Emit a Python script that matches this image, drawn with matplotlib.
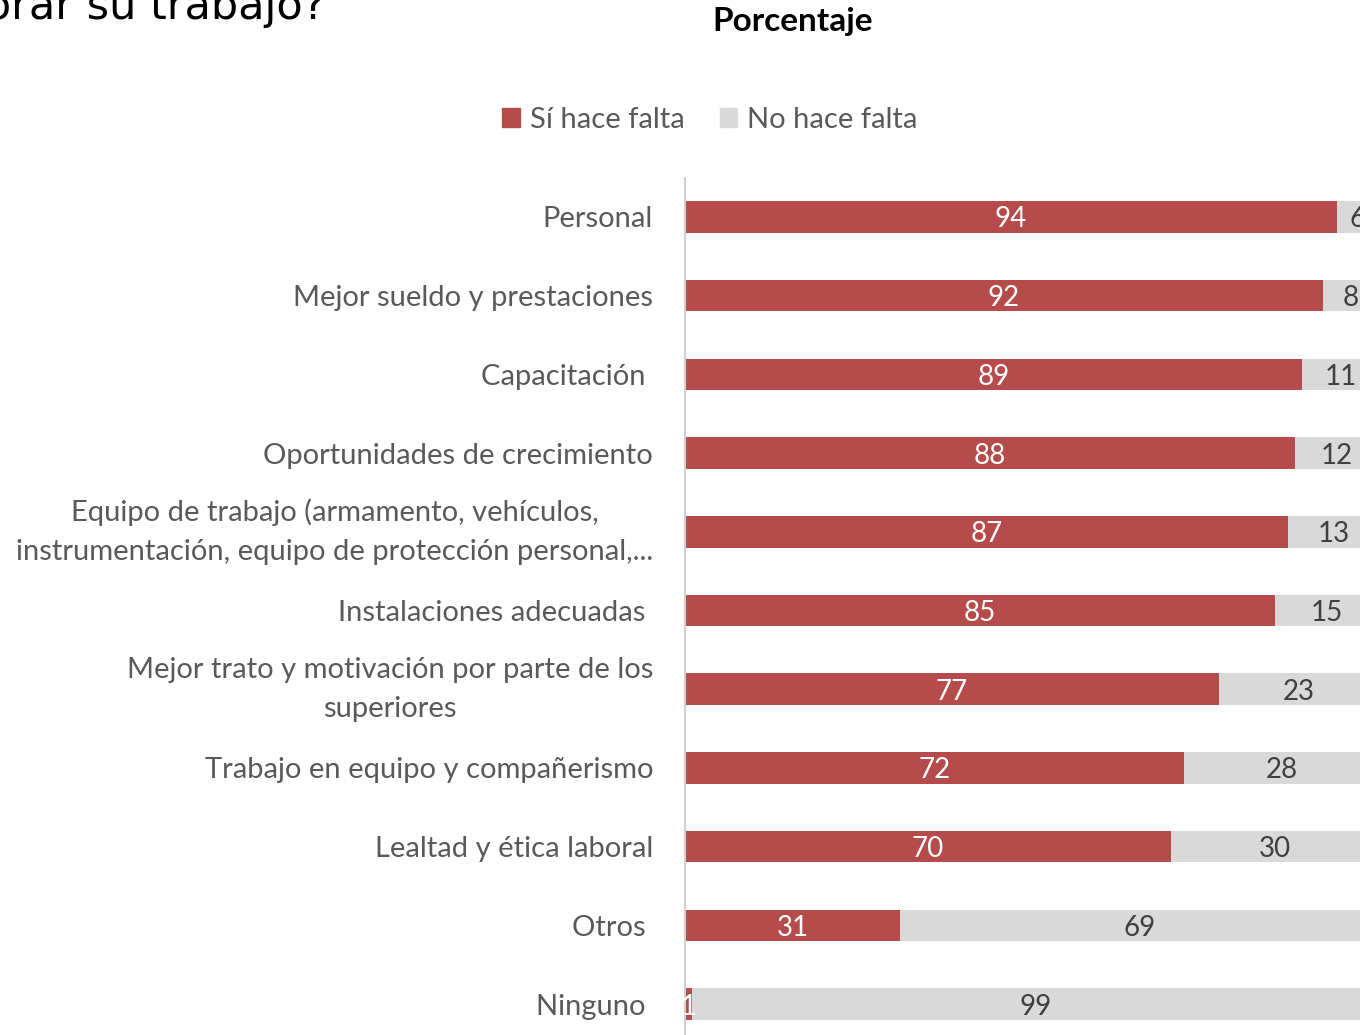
import matplotlib
matplotlib.use('Agg')
import matplotlib.pyplot as plt
from matplotlib.patches import Patch

categories = [
    'Personal',
    'Mejor sueldo y prestaciones',
    'Capacitación ',
    'Oportunidades de crecimiento',
    'Equipo de trabajo (armamento, vehículos,\ninstrumentación, equipo de protección personal,...',
    'Instalaciones adecuadas ',
    'Mejor trato y motivación por parte de los\nsuperiores',
    'Trabajo en equipo y compañerismo',
    'Lealtad y ética laboral',
    'Otros ',
    'Ninguno ',
]
si_falta = [94, 92, 89, 88, 87, 85, 77, 72, 70, 31, 1]
no_falta = [6, 8, 11, 12, 13, 15, 23, 28, 30, 69, 99]

RED = '#B54B4A'
GREY = '#D9D9D9'
TXT = '#595959'

plt.rcParams['font.family'] = ['Lato', 'DejaVu Sans']

W, H = 1360, 1035
fig = plt.figure(figsize=(W / 100, H / 100), dpi=100)

# axes placed in pixel terms; right part runs off the canvas like the source
x0, x100 = 685, 1378.6
step = 78.7
top = 217 - step / 2
bottom = top + step * len(categories)
ax = fig.add_axes([x0 / W, 1 - bottom / H, (x100 - x0) / W, (bottom - top) / H])

y = list(range(len(categories)))
bh = 0.4
ax.barh(y, si_falta, height=bh, color=RED)
ax.barh(y, no_falta, left=si_falta, height=bh, color=GREY)

for i, (a, b) in enumerate(zip(si_falta, no_falta)):
    ax.text(a / 2, i, str(a), ha='center', va='center_baseline', color='white', fontsize=20)
    ax.text(a + b / 2, i, str(b), ha='center', va='center_baseline', color='#404040', fontsize=20)

ax.set_xlim(0, 100)
ax.set_ylim(len(categories) - 0.5, -0.5)
ax.set_yticks(y)
ax.set_yticklabels(categories, fontsize=21, color=TXT)
for lab in ax.get_yticklabels():
    lab.set_multialignment('center')
    if '\n' in lab.get_text():
        lab.set_linespacing(1.6)
        lab.set_va('center')
ax.tick_params(axis='y', length=0, pad=23)
ax.tick_params(axis='x', bottom=False, labelbottom=False)
for s in ['top', 'right', 'bottom']:
    ax.spines[s].set_visible(False)
ax.spines['left'].set_color('#D0D0D0')
ax.spines['left'].set_linewidth(1.5)

fig.text(793 / W, 1 - 21 / H, 'Porcentaje', ha='center', va='center',
         fontsize=24, fontweight='bold', color='black')
fig.text(326 / W, 1 - 19 / H, '¿Qué hace falta para mejorar su trabajo?',
         ha='right', va='baseline', fontsize=31, color='black',
         family='DejaVu Sans')

handles = [Patch(color=RED), Patch(color=GREY)]
fig.legend(handles, ['Sí hace falta', 'No hace falta'], loc='center',
           bbox_to_anchor=(710 / W, 1 - 120 / H), ncol=2, frameon=False,
           fontsize=21, labelcolor=TXT, handlelength=0.6, handleheight=0.6,
           handletextpad=0.35, columnspacing=1.2)

fig.savefig('out.png', dpi=100)
